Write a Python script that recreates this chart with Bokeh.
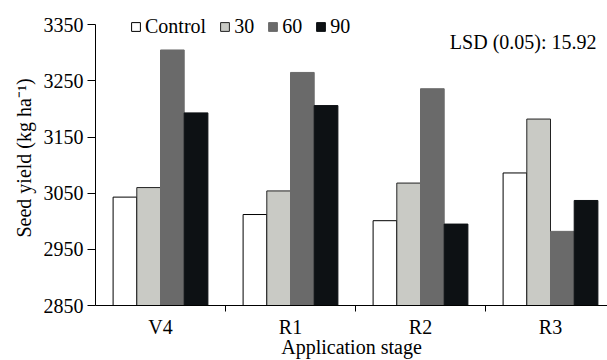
from bokeh.plotting import figure
from bokeh.models import (ColumnDataSource, Range1d, FixedTicker, Legend, LegendItem,
                          Label)
from bokeh.transform import dodge
from bokeh.embed import file_html
from bokeh.resources import INLINE

# ---- data ----
stages = ["V4", "R1", "R2", "R3"]
series_names = ["Control", "30", "60", "90"]
control = [3043, 3012, 3001, 3086]
dose30 = [3060, 3054, 3068, 3182]
dose60 = [3305, 3265, 3236, 2982]
dose90 = [3193, 3206, 2995, 3037]
y_ticks = [2850, 2950, 3050, 3150, 3250, 3350]
lsd_text = "LSD (0.05): 15.92"
x_title = "Application stage"
y_title = "Seed  yield (kg ha\u207b\u00b9)"

colors = ["#ffffff", "#c9cac5", "#6a6a6a", "#0d1114"]
outlines = ["#000000", "#222222", "#6a6a6a", "#0d1114"]

FONT = "'Liberation Serif', serif"
FS = "20px"
INK = "#000000"

centers = [i + 0.5 for i in range(len(stages))]
src = ColumnDataSource(dict(xc=centers, c=control, d30=dose30, d60=dose60, d90=dose90))

p = figure(width=607, height=360, output_backend="svg", toolbar_location=None,
           x_range=Range1d(0, 512 / 130), y_range=Range1d(2850, 3384.2),
           min_border_left=95, min_border_right=0, min_border_top=5, min_border_bottom=54)
p.outline_line_color = None
p.xgrid.visible = False
p.ygrid.visible = False
p.background_fill_color = "white"
p.border_fill_color = "white"

bw = 0.1823
cols = ["c", "d30", "d60", "d90"]
renderers = []
for k, col in enumerate(cols):
    off = (k - 1.5) * bw
    r = p.vbar(x=dodge("xc", off), top=col, bottom=2850, width=bw, source=src,
               fill_color=colors[k], line_color=outlines[k], line_width=1)
    renderers.append(r)

legend = Legend(items=[LegendItem(label=series_names[k], renderers=[renderers[k]]) for k in range(4)],
                orientation="horizontal", location=(35, 267),
                glyph_width=11, glyph_height=11, label_standoff=4, spacing=13,
                padding=0, margin=0, border_line_color=None, background_fill_alpha=0,
                label_text_font=FONT, label_text_font_size=FS, label_height=20,
                label_text_color=INK)
p.add_layout(legend)

# y axis
ya = p.yaxis[0]
ya.ticker = FixedTicker(ticks=y_ticks)
ya.bounds = (2850, 3350)
ya.major_tick_out = 8
ya.major_tick_in = 0
ya.minor_tick_line_color = None
ya.major_label_standoff = 4
ya.major_label_text_font = FONT
ya.major_label_text_font_size = FS
ya.major_label_text_color = INK
ya.axis_label = y_title
ya.axis_label_text_font = FONT
ya.axis_label_text_font_size = FS
ya.axis_label_text_font_style = "normal"
ya.axis_label_text_color = INK
ya.axis_label_standoff = 6
ya.axis_line_color = INK

# x axis
xa = p.xaxis[0]
xa.ticker = FixedTicker(ticks=centers, minor_ticks=list(range(1, len(stages))))
xa.major_label_overrides = {c: s for c, s in zip(centers, stages)}
xa.major_tick_line_color = None
xa.major_tick_out = 6
xa.major_tick_in = 0
xa.minor_tick_out = 6
xa.minor_tick_in = 0
xa.minor_tick_line_color = INK
xa.major_label_standoff = 4
xa.major_label_text_font = FONT
xa.major_label_text_font_size = FS
xa.major_label_text_color = INK
xa.axis_label = x_title
xa.axis_label_text_font = FONT
xa.axis_label_text_font_size = FS
xa.axis_label_text_font_style = "normal"
xa.axis_label_text_color = INK
xa.axis_label_standoff = -5
xa.axis_line_color = INK

p.add_layout(Label(x=3.854, y=3320, text=lsd_text, text_align="right",
                   text_baseline="alphabetic", text_font=FONT, text_font_size=FS,
                   text_color=INK))

open("out.html", "w").write(file_html(p, INLINE))
